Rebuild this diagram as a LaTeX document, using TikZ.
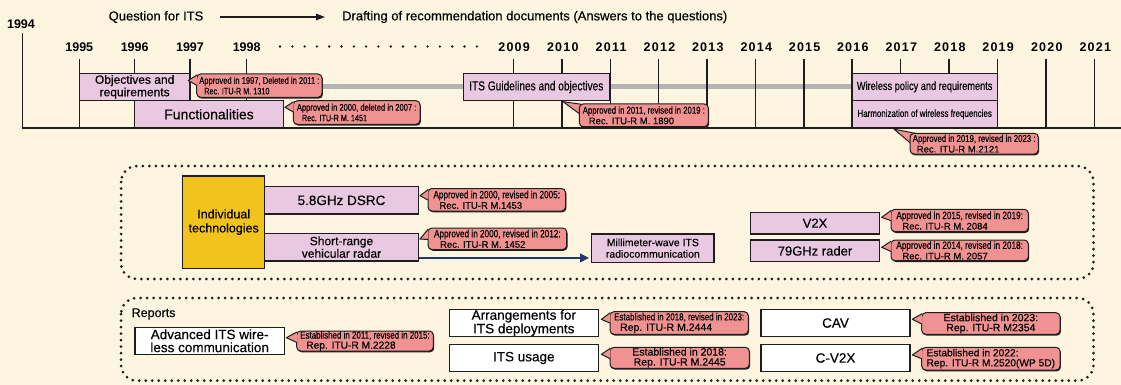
\documentclass[tikz,border=0pt]{standalone}
\usepackage{fontspec}
\setmainfont{Liberation Sans}[UprightFeatures={FakeBold=0.3}]
\newfontfamily\nf[FakeStretch=0.78,FakeBold=0.3]{Liberation Sans}
\usetikzlibrary{arrows.meta,calc,shadows}
\definecolor{bg}{HTML}{FDF5E0}
\definecolor{pinkbox}{HTML}{E9C8E1}
\definecolor{callred}{HTML}{F09292}
\definecolor{yel}{HTML}{F3C31D}
\definecolor{barg}{HTML}{B4B4B4}
\definecolor{navy}{HTML}{22386B}
\definecolor{ink}{HTML}{1E1E1E}
\pgfdeclarelayer{bgfill}
\pgfdeclarelayer{under}
\pgfsetlayers{bgfill,under,main}
\newcommand\nt[2]{{\nf\fontsize{#1}{#1}\selectfont #2}}
\newcommand\rt[2]{{\fontsize{#1}{#1}\selectfont #2}}
\newcommand\ptrL[2]{\path[ptr] ($(#1.north west)+(0.8,1.5)$) -- (#2) -- ($(#1.north west)+(0.8,12)$);}
\newcommand\ptrT[2]{\begin{pgfonlayer}{under}\path[ptr] ($(#1.north west)+(18,3)$) -- (#2) -- ($(#1.north west)+(3,12)$);\end{pgfonlayer}}
\tikzset{
  pbox/.style 2 args={draw=ink, line width=1.3pt, fill=pinkbox, minimum width=#1pt, minimum height=#2pt, inner sep=0pt, align=center},
  wbox/.style 2 args={pbox={#1}{#2}, fill=white},
  cbody/.style 2 args={draw=ink, line width=1pt, fill=callred, rounded corners=4pt, minimum width=#1pt, minimum height=#2pt, inner xsep=1pt, inner ysep=0pt, align=left, font=\fontsize{9.5}{10.5}\selectfont, drop shadow={shadow xshift=0.9pt, shadow yshift=-1.3pt, fill=ink, opacity=1}},
  ptr/.style={fill=callred, draw=ink, line width=1pt, line join=round},
  yr/.style={inner sep=0pt, font=\bfseries\fontsize{12.5}{13}\selectfont},
  yrs/.style={inner sep=0pt, font=\bfseries\fontsize{12.5}{13}\selectfont\addfontfeature{LetterSpace=10}},
  tickline/.style={line width=1.5pt, draw=ink},
  dotbox/.style={draw=ink, line width=3pt, line cap=round, dash pattern=on 0pt off 6.5pt, rounded corners=16pt},
  hdr/.style={inner sep=0pt, font=\fontsize{13}{14}\selectfont},
}
\begin{document}
\begin{tikzpicture}[x=1pt,y=-1pt]
\useasboundingbox (0,0) rectangle (1121,385);
\begin{pgfonlayer}{bgfill}
\fill[bg] (0,0) rectangle (1121,385);
\end{pgfonlayer}

% header
\node[hdr] (q) at (156,17) {Question for ITS};
\node[hdr, anchor=west] (dr) at (342,17) {Drafting of recommendation documents (Answers to the questions)};
\coordinate (a1) at (220,17);
\coordinate (a2) at (325,17);
\draw[ink, line width=1.2pt, -{Triangle[length=9pt,width=6.5pt]}] (a1) -- (a2);

% timeline
\node[yr] (y1994) at (21,24.5) {1994};
\draw[ink, line width=1.8pt] (22.5,33) -- (22.5,128) -- (1121,128);
\foreach \x/\y in {79.3/1995,134.7/1996,190/1997,246.7/1998} {
  \draw[tickline] (\x,59) -- (\x,128);
  \node[yr] (y\y) at (\x,47) {\y};
}
\foreach \x/\y in {513.3/2009,562/2010,610.3/2011,658.7/2012,707/2013,755.5/2014,803.8/2015,852/2016,900.5/2017,949/2018,997.3/2019,1046/2020,1094.5/2021} {
  \draw[tickline] (\x,59) -- (\x,128);
  \node[yrs] (y\y) at (\x+0.8,47) {\y};
}
\foreach \i in {0,...,16} \fill[ink] (280+\i*12.3,46.5) circle (1.3pt);

% timeline boxes
\node[pbox={110.7}{27.2}, font=\fontsize{12}{12.5}\selectfont] (obj) at (134.65,86.9) {Objectives and\\requirements};
\node[pbox={148.6}{27.5}, font=\fontsize{14}{15}\selectfont] (func) at (209,114.25) {Functionalities};
\node[pbox={146}{27.4}, font=\nf\fontsize{13}{14}\selectfont] (its) at (536.3,87) {ITS Guidelines and objectives};
\node[pbox={145.3}{27.2}, font=\nf\fontsize{11.8}{12}\selectfont] (wpr) at (924.65,86.9) {Wireless policy and requirements};
\node[pbox={145.3}{27.5}, font=\nf\fontsize{10.2}{12}\selectfont] (harm) at (924.65,114.25) {Harmonization of wireless frequencies};

\node[cbody={125.3}{23.3}] (c1310) at (259.35,85.65) {\nt{9.7}{Approved in 1997, Deleted in 2011 :}\\\hspace*{5pt}\nt{9.3}{Rec. ITU-R M. 1310}};
\node[cbody={126.7}{23.6}] (c1451) at (356.65,112.5) {\nt{9.7}{Approved in 2000, deleted in 2007 :}\\\hspace*{5pt}\nt{9.3}{Rec. ITU-R M. 1451}};
\node[cbody={129}{22.7}] (c1890) at (643.8,115.35) {\nt{10}{Approved in 2011, revised in 2019 :}\\\hspace*{6pt}\rt{9.5}{Rec. ITU-R M. 1890}};
\node[cbody={128.3}{20.7}] (c2121) at (974.15,143.65) {\nt{10}{Approved in 2019, revised in 2023 :}\\\hspace*{4pt}\rt{9.5}{Rec. ITU-R M.2121}};

\begin{pgfonlayer}{under}
\draw[barg, line width=5pt] (c1310.east |- wpr.west) -- (wpr.west);
\end{pgfonlayer}

\coordinate (t1310) at ($(obj.east)+(-2.5,-6.4)$);
\coordinate (t1451) at ($(func.east)+(1,-7)$);
\coordinate (t1890) at ($(its.south)+(26.7,0.3)$);
\coordinate (t2121) at ($(harm.south)+(-30.6,0.5)$);
\ptrL{c1310}{t1310}
\ptrL{c1451}{t1451}
\ptrT{c1890}{t1890}
\ptrT{c2121}{t2121}

% individual technologies
\draw[dotbox] (121,166) rectangle (1093.5,279);
\node[draw=ink, line width=1.3pt, fill=yel, minimum width=82pt, minimum height=92.3pt, inner sep=0pt, align=center, font=\fontsize{12.5}{14}\selectfont] (indiv) at (223.7,222.15) {Individual\\technologies};
\node[pbox={153.6}{27.3}, font=\fontsize{13.5}{14}\selectfont] (dsrc) at (341.5,200.35) {5.8GHz DSRC};
\node[pbox={153.6}{27.7}, font=\fontsize{12}{12.5}\selectfont] (radar) at (341.5,247.15) {Short-range\\vehicular radar};
\node[pbox={122.3}{28.3}, font=\fontsize{10.5}{11.5}\selectfont] (mm) at (652.85,248.15) {Millimeter-wave ITS\\radiocommunication};
\node[pbox={128.6}{21.7}, font=\fontsize{13}{14}\selectfont] (v2x) at (815,223.15) {V2X};
\node[pbox={128.6}{21.7}, font=\fontsize{13}{14}\selectfont] (r79) at (815,250.85) {79GHz rader};

\node[cbody={137.5}{22.5}] (c1453) at (496.75,199.75) {\nt{10.5}{Approved in 2000, revised in 2005:}\\\hspace*{6pt}\rt{9.5}{Rec. ITU-R M.1453}};
\node[cbody={138.7}{21.5}] (c1452) at (497.35,238.75) {\nt{10.5}{Approved in 2000, revised in 2012:}\\\hspace*{6pt}\rt{9.5}{Rec. ITU-R M. 1452}};
\node[cbody={137.3}{22.4}] (c2084) at (959.65,220.5) {\nt{10.5}{Approved in 2015, revised in 2019:}\\\hspace*{6pt}\rt{9.5}{Rec. ITU-R M. 2084}};
\node[cbody={137.3}{20.7}] (c2057) at (959.65,250.35) {\nt{10.5}{Approved in 2014, revised in 2018:}\\\hspace*{6pt}\rt{9.5}{Rec. ITU-R M. 2057}};

\coordinate (t1453) at ($(dsrc.east)+(1,-4.6)$);
\coordinate (t1452) at ($(radar.east)+(1,-8.1)$);
\coordinate (t2084) at ($(v2x.east)+(1.7,-5.8)$);
\coordinate (t2057) at ($(r79.east)+(1.7,-3.5)$);
\ptrL{c1453}{t1453}
\ptrL{c1452}{t1452}
\ptrL{c2084}{t2084}
\ptrL{c2057}{t2057}

\draw[navy, line width=2.6pt, -{Triangle[length=9pt,width=8.5pt]}, shorten >=2pt] ($(radar.south east)+(0,-3.7)$) coordinate (ba) -- (ba -| mm.west);

% reports
\draw[dotbox] (121,298) rectangle (1093.5,380.7);
\node[inner sep=0pt, anchor=west, font=\fontsize{12.5}{13}\selectfont] (rep) at (131.5,314) {Reports};
\node[wbox={149.3}{27}, font=\fontsize{13.5}{13}\selectfont] (adv) at (209.65,340.8) {Advanced ITS wire-\\less communication};
\node[wbox={149}{27.4}, font=\fontsize{13.5}{12.5}\selectfont] (arr) at (523.8,323) {Arrangements for\\ITS deployments};
\node[wbox={149}{27.4}, font=\fontsize{13.5}{14}\selectfont] (usage) at (523.8,358) {ITS usage};
\node[wbox={149}{27.4}, font=\fontsize{13.5}{14}\selectfont] (cav) at (835.5,323) {CAV};
\node[wbox={149}{27.4}, font=\fontsize{13.5}{14}\selectfont] (cv2x) at (835.5,358) {C-V2X};

\node[cbody={136.6}{20}, font=\fontsize{10.2}{10}\selectfont] (c2228) at (365,341) {\nt{10.2}{Established in 2011, revised in 2015:}\\\hspace*{6pt}Rep. ITU-R M.2228};
\node[cbody={138.3}{22.6}, font=\fontsize{10.5}{10.5}\selectfont] (c2444) at (679.15,323) {\nt{10.2}{Established in 2018, revised in 2023:}\\\hspace*{6pt}Rep. ITU-R M.2444};
\node[cbody={139.3}{21}, align=center, font=\fontsize{10.5}{10}\selectfont] (c2445) at (679.65,357.8) {Established in 2018:\\Rep. ITU-R M.2445};
\node[cbody={138.3}{21.6}, align=center, font=\fontsize{10.5}{10}\selectfont] (c2354) at (990.85,323.5) {Established in 2023:\\Rep. ITU-R M2354};
\node[cbody={138.3}{22.7}, font=\fontsize{10.2}{10}\selectfont] (c2520) at (990.85,358.65) {Established in 2022:\\Rep. ITU-R M.2520(WP 5D)};

\coordinate (t2228) at ($(adv.east)+(1.4,-3.1)$);
\coordinate (t2444) at ($(arr.east)+(2.4,-3.7)$);
\coordinate (t2445) at ($(usage.east)+(2.4,-3.7)$);
\coordinate (t2354) at ($(cav.east)+(1.7,-3.7)$);
\coordinate (t2520) at ($(cv2x.east)+(1.7,-3)$);
\ptrL{c2228}{t2228}
\ptrL{c2444}{t2444}
\ptrL{c2445}{t2445}
\ptrL{c2354}{t2354}
\ptrL{c2520}{t2520}
\end{tikzpicture}
\end{document}
